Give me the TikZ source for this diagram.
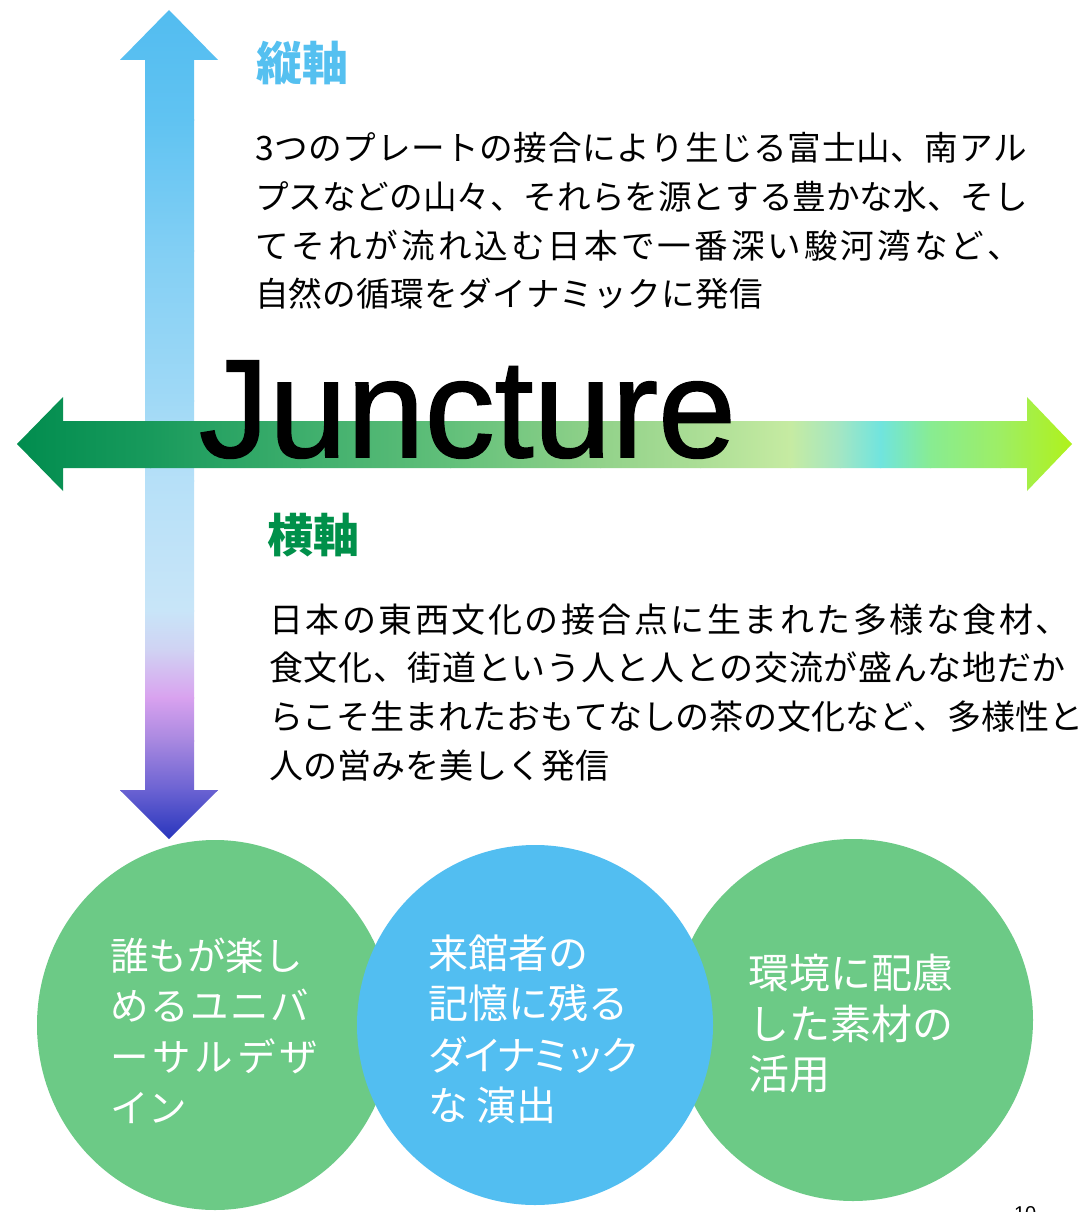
\documentclass[tikz,border=0pt]{standalone}
\usepackage{fontspec}
\setmainfont{Liberation Sans}
\newfontfamily\jp{Noto Sans CJK JP}
\newfontfamily\titlefont[FakeBold=1.2]{Liberation Sans}
% spread a line of characters evenly to a given width
\def\spreadloop#1{\ifx#1\relax\else#1\hskip 0pt plus 1fil minus 1fil\expandafter\spreadloop\fi}
\newcommand\spreadline[2]{\hbox to #1{\spreadloop#2\relax\unskip}}
\definecolor{cgreen}{HTML}{6CCA86}
\definecolor{cblue}{HTML}{52BEF1}
\definecolor{hblue}{HTML}{55C0F0}
\definecolor{hgreen}{HTML}{00904A}
% vertical arrow stops
\definecolor{va}{HTML}{52BCF0}
\definecolor{vb}{HTML}{60C3F2}
\definecolor{vc}{HTML}{82CFF4}
\definecolor{vd}{HTML}{A0D9F6}
\definecolor{ve}{HTML}{B6E0F8}
\definecolor{vf}{HTML}{C8E5F8}
\definecolor{vg}{HTML}{D0D2F3}
\definecolor{vh}{HTML}{D9A2EF}
\definecolor{vi}{HTML}{A888E0}
\definecolor{vj}{HTML}{6A62D2}
\definecolor{vk}{HTML}{2030BA}
% horizontal arrow stops
\definecolor{ha}{HTML}{008C4E}
\definecolor{hb}{HTML}{189A5C}
\definecolor{hc}{HTML}{3DAE6C}
\definecolor{hd}{HTML}{62C07A}
\definecolor{he}{HTML}{92D28A}
\definecolor{hf}{HTML}{ACDE96}
\definecolor{hg}{HTML}{C6EBA2}
\definecolor{hh}{HTML}{A2E6C4}
\definecolor{hi}{HTML}{70E4DE}
\definecolor{hj}{HTML}{88EC92}
\definecolor{hk}{HTML}{9EEE64}
\definecolor{hl}{HTML}{B2F212}
\tikzset{
  jtxt/.style={anchor=base west, inner sep=0pt, outer sep=0pt},
  bodyA/.style={jtxt, font=\jp\fontsize{33.6}{40}\selectfont},
  bodyB/.style={jtxt, font=\jp\fontsize{34}{40}\selectfont},
  headA/.style={jtxt, font=\jp\bfseries\fontsize{46}{50}\selectfont},
  circtxt/.style={jtxt, text=white},
}
\begin{document}
\begin{tikzpicture}[x=1pt,y=-1pt]
\useasboundingbox (0,0) rectangle (1084,1212);
\fill[white] (0,0) rectangle (1084,1212);

% ---------- vertical arrow ----------
\begin{scope}
\clip (169,10) -- (218,60) -- (194,60) -- (194,790) -- (218,790) -- (169,839)
      -- (120,790) -- (145,790) -- (145,60) -- (120,60) -- cycle;
\shade[top color=va, bottom color=vb] (110,5) rectangle (230,121);
\shade[top color=vb, bottom color=vc] (110,120) rectangle (230,251);
\shade[top color=vc, bottom color=vd] (110,250) rectangle (230,401);
\shade[top color=vd, bottom color=ve] (110,400) rectangle (230,481);
\shade[top color=ve, bottom color=vf] (110,480) rectangle (230,611);
\shade[top color=vf, bottom color=vg] (110,610) rectangle (230,651);
\shade[top color=vg, bottom color=vh] (110,650) rectangle (230,698);
\shade[top color=vh, bottom color=vi] (110,697) rectangle (230,741);
\shade[top color=vi, bottom color=vj] (110,740) rectangle (230,791);
\shade[top color=vj, bottom color=vk] (110,790) rectangle (230,845);
\end{scope}

% ---------- horizontal arrow ----------
\begin{scope}
\clip (17,444) -- (63,397) -- (63,421) -- (1027,421) -- (1027,397) -- (1072,444)
      -- (1027,491) -- (1027,468) -- (63,468) -- (63,491) -- cycle;
\shade[left color=ha, right color=hb] (10,390) rectangle (151,500);
\shade[left color=hb, right color=hc] (150,390) rectangle (301,500);
\shade[left color=hc, right color=hd] (300,390) rectangle (451,500);
\shade[left color=hd, right color=he] (450,390) rectangle (601,500);
\shade[left color=he, right color=hf] (600,390) rectangle (701,500);
\shade[left color=hf, right color=hg] (700,390) rectangle (791,500);
\shade[left color=hg, right color=hh] (790,390) rectangle (841,500);
\shade[left color=hh, right color=hi] (840,390) rectangle (881,500);
\shade[left color=hi, right color=hj] (880,390) rectangle (931,500);
\shade[left color=hj, right color=hk] (930,390) rectangle (1001,500);
\shade[left color=hk, right color=hl] (1000,390) rectangle (1080,500);
\end{scope}

% ---------- title ----------
\node[jtxt, font=\titlefont\fontsize{140}{140}\selectfont] (title) at (199,457) {Juncture};

% ---------- headings ----------
\node[headA, text=hblue] (h1) at (256,81) {縦軸};
\node[headA, text=hgreen] (h2) at (267,552) {横軸};

% ---------- upper body ----------
\node[bodyA] (a1) at (255,160) {\spreadline{772pt}{3つのプレートの接合により生じる富士山、南アル}};
\node[bodyA] (a2) at (255,209) {\spreadline{773pt}{プスなどの山々、それらを源とする豊かな水、そし}};
\node[bodyA] (a3) at (255,258) {\spreadline{766pt}{てそれが流れ込む日本で一番深い駿河湾など、}};
\node[bodyA] (a4) at (255,306) {\spreadline{508pt}{自然の循環をダイナミックに発信}};

% ---------- lower body ----------
\node[bodyB] (b1) at (269,632) {\spreadline{801pt}{日本の東西文化の接合点に生まれた多様な食材、}};
\node[bodyB] (b2) at (269,680) {\spreadline{797pt}{食文化、街道という人と人との交流が盛んな地だか}};
\node[bodyB] (b3) at (269,729) {\spreadline{814pt}{らこそ生まれたおもてなしの茶の文化など、多様性と}};
\node[bodyB] (b4) at (269,778) {\spreadline{340pt}{人の営みを美しく発信}};

% ---------- circles ----------
\fill[cgreen] (215,1025) ellipse [x radius=178pt, y radius=185pt];
\fill[cgreen] (853,1020) ellipse [x radius=180pt, y radius=181pt];
\fill[cblue] (535,1025) ellipse [x radius=178pt, y radius=180pt];

\begin{scope}[every node/.style={circtxt, font=\jp\fontsize{38.5}{40}\selectfont}]
\node (c1a) at (110,970) {誰もが楽し};
\node (c1b) at (110,1020) {\spreadline{199pt}{めるユニバ}};
\node (c1c) at (110,1071) {\spreadline{208pt}{ーサルデザ}};
\node (c1d) at (110,1122) {イン};
\end{scope}
\begin{scope}[every node/.style={circtxt, font=\jp\fontsize{40}{40}\selectfont}]
\node (c2a) at (428,968) {来館者の};
\node (c2b) at (428,1018) {記憶に残る};
\node (c2c) at (428,1070) {\spreadline{212pt}{ダイナミック}};
\node (c2d) at (428,1120) {な 演出};
\end{scope}
\begin{scope}[every node/.style={circtxt, font=\jp\fontsize{41}{40}\selectfont}]
\node (c3a) at (748,988) {環境に配慮};
\node (c3b) at (748,1039) {した素材の};
\node (c3c) at (748,1089) {活用};
\end{scope}

% ---------- page number ----------
\node[jtxt, font=\fontsize{20}{20}\selectfont] (pg) at (1014,1220) {10};
\end{tikzpicture}
\end{document}
